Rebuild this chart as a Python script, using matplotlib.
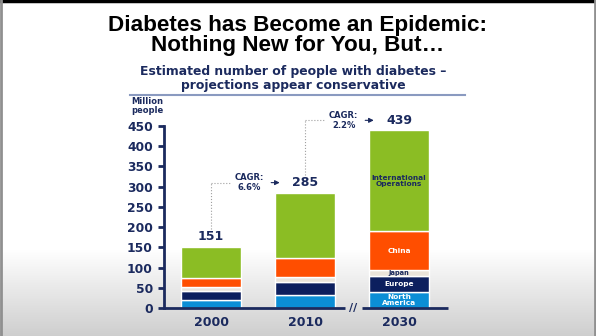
import matplotlib
matplotlib.use('Agg')
from matplotlib import pyplot as plt
import numpy as np

years = ['2000', '2010', '2030']
totals = [151, 285, 439]
north_america = [20, 31, 39]
europe = [22, 34, 40]
japan = [9, 11, 14]
china = [24, 48, 98]
international = [76, 161, 248]
cagr = ['6.6%', '2.2%']
segment_names = ['North\nAmerica', 'Europe', 'Japan', 'China', 'International\nOperations']

navy = '#1B2A5E'
seg_colors = ['#0B8ED6', '#0C1F5E', '#EAE4DA', '#FF4E00', '#8BBD24']
seg_text = ['white', 'white', navy, 'white', navy]

fig = plt.figure(figsize=(5.96, 3.36), dpi=100)

# slide background: white with grey fade at the bottom
bg = fig.add_axes([0, 0, 1, 1], zorder=-1)
rows = np.linspace(0, 1, 336)
shade = np.ones(336)
start = 250 / 336
m = rows > start
shade[m] = 1 - 0.19 * ((rows[m] - start) / (1 - start))
bg.imshow(np.dstack([shade] * 3).reshape(336, 1, 3), aspect='auto', extent=[0, 1, 0, 1])
bg.axhline(0.996, color='black', lw=2.5)
bg.axvline(0.002, color='#909090', lw=2)
bg.axvline(0.998, color='#909090', lw=2)
bg.set_xlim(0, 1)
bg.set_ylim(0, 1)
bg.axis('off')

# titles
fig.text(0.5, 1 - 25 / 336, 'Diabetes has Become an Epidemic:', ha='center', va='center',
         fontsize=16.2, fontweight='bold', family='Liberation Sans', color='black')
fig.text(0.5, 1 - 45 / 336, 'Nothing New for You, But\u2026', ha='center', va='center',
         fontsize=16.2, fontweight='bold', family='Liberation Sans', color='black')
fig.text(293 / 596, 1 - 71 / 336, 'Estimated number of people with diabetes \u2013', ha='center',
         va='center', fontsize=8.9, fontweight='bold', color=navy)
fig.text(293 / 596, 1 - 86 / 336, 'projections appear conservative', ha='center',
         va='center', fontsize=8.9, fontweight='bold', color=navy)
bg.plot([130 / 596, 465 / 596], [1 - 95 / 336] * 2, color='#8A9AC0', lw=1.5)
fig.text(147 / 596, 1 - 106 / 336, 'Million\npeople', ha='center', va='center',
         fontsize=6, fontweight='bold', color=navy, linespacing=1.0)

ax = fig.add_axes([164 / 596, 28 / 336, 284 / 596, 182 / 336])
ax.patch.set_alpha(0)

x = np.arange(len(years))
series = [north_america, europe, japan, china, international]
bottom = np.zeros(len(years))
for vals, col, name, tcol in zip(series, seg_colors, segment_names, seg_text):
    vals = np.array(vals, dtype=float)
    ax.bar(x, vals, 0.63, bottom=bottom, color=col, edgecolor='white', linewidth=1)
    fs = 4.8 if name == 'Japan' else 5.3
    ax.text(x[-1], bottom[-1] + vals[-1] / 2, name, ha='center', va='center',
            fontsize=fs, fontweight='bold', color=tcol, linespacing=1.0)
    bottom += vals

# total labels
lab_y = [t + 25 for t in totals]
for i, t in enumerate(totals):
    ax.text(x[i], lab_y[i], str(t), ha='center', va='center', fontsize=9,
            fontweight='bold', color=navy, clip_on=False)

# CAGR connectors
for i, c in enumerate(cagr):
    y2 = lab_y[i + 1]
    ax.plot([x[i], x[i]], [lab_y[i] + 19, y2], color='#A0A0A0', lw=0.8, ls=':', clip_on=False)
    ax.plot([x[i], x[i] + 0.21], [y2, y2], color='#A0A0A0', lw=0.8, ls=':', clip_on=False)
    ax.text(x[i] + 0.41, y2, 'CAGR:\n' + c, ha='center', va='center', fontsize=6,
            fontweight='bold', color=navy, linespacing=1.1, clip_on=False)
    ax.annotate('', xy=(x[i] + 0.76, y2), xytext=(x[i] + 0.61, y2),
                arrowprops=dict(arrowstyle='-|>', color=navy, lw=0.8, mutation_scale=7),
                annotation_clip=False)

ax.set_xlim(-0.5, 2.52)
ax.set_ylim(0, 450)
for s in ['top', 'right', 'bottom']:
    ax.spines[s].set_visible(False)
ax.spines['left'].set_color(navy)
ax.spines['left'].set_linewidth(2)

# broken baseline
ax.plot([-0.5, 1.42], [0, 0], color=navy, lw=2, clip_on=False, solid_capstyle='butt')
ax.plot([1.61, 2.52], [0, 0], color=navy, lw=2, clip_on=False, solid_capstyle='butt')
ax.text(1.515, 0, '//', ha='center', va='center', fontsize=8, fontweight='bold', color=navy)

ax.set_yticks(np.arange(0, 451, 50))
ax.tick_params(axis='y', direction='out', length=4, width=2, color=navy,
               labelsize=8.8, labelcolor=navy, pad=4)
ax.set_xticks(x, years)
ax.tick_params(axis='x', length=0, pad=6, labelsize=9, labelcolor=navy)
for lbl in ax.get_yticklabels() + ax.get_xticklabels():
    lbl.set_fontweight('bold')

fig.savefig('out.png', dpi=100)
